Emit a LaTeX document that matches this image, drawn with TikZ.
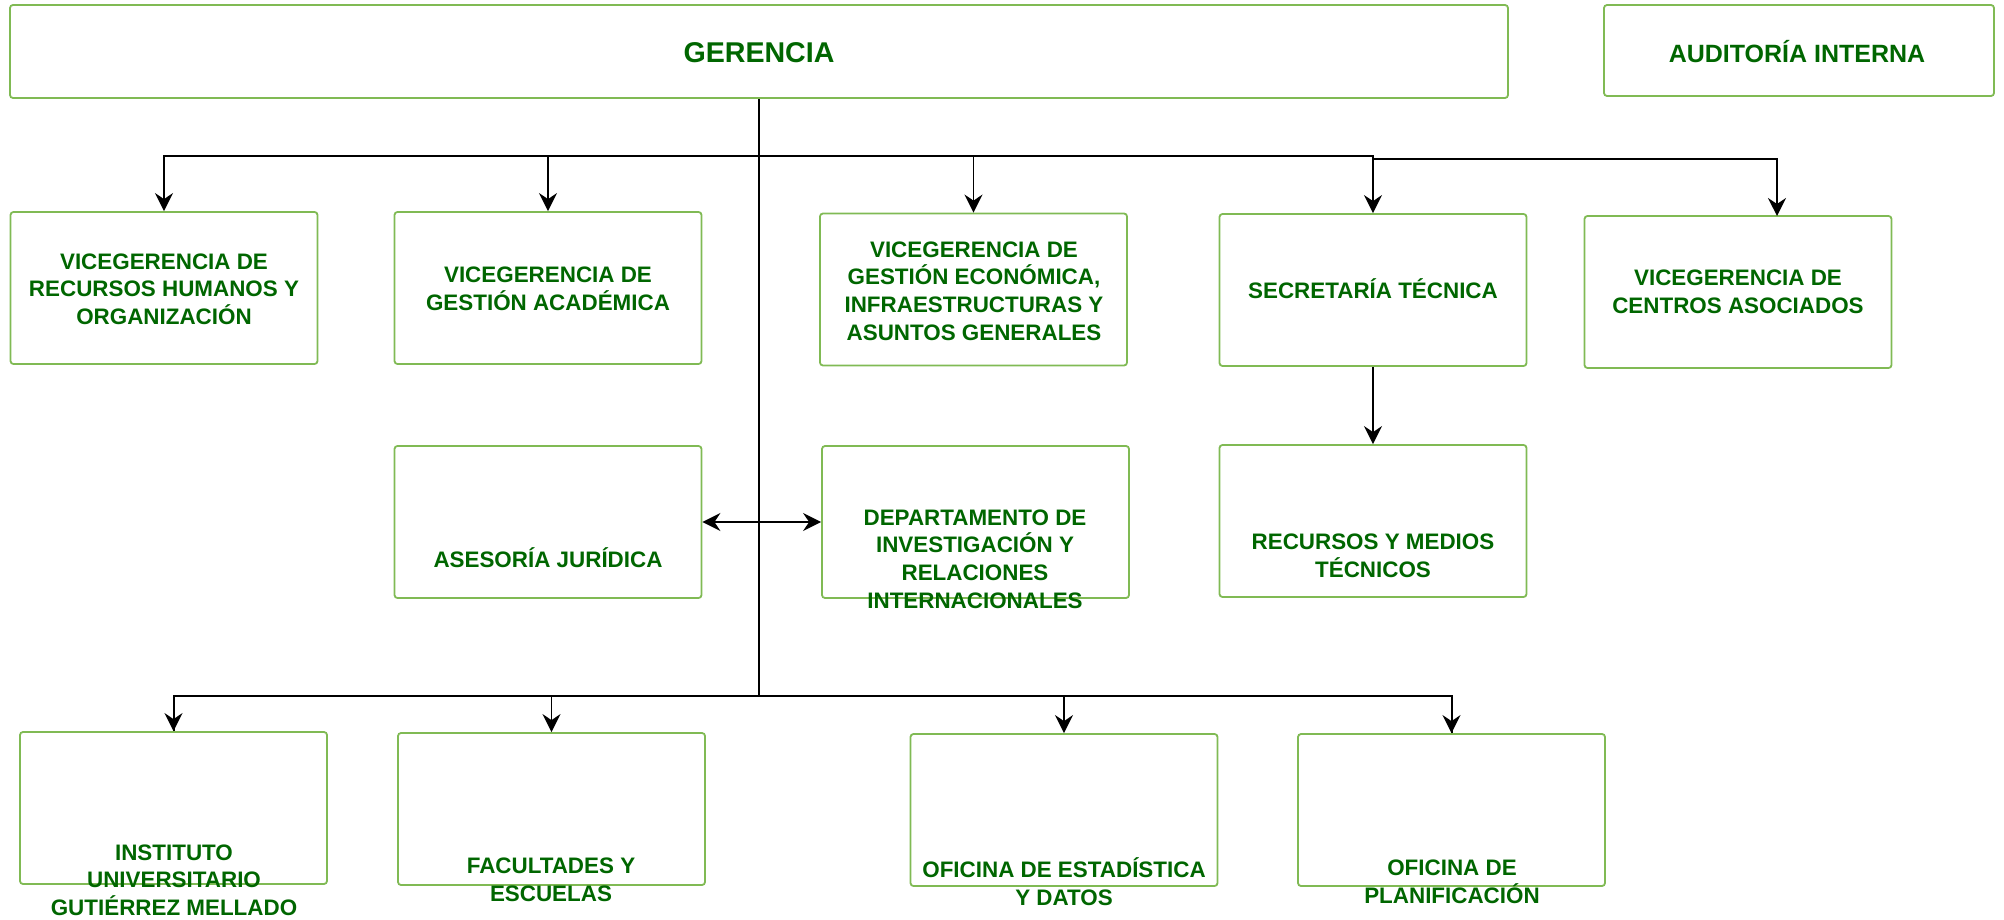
\documentclass[tikz,border=0pt]{standalone}
\usepackage{fontspec}
\setmainfont{Liberation Sans}
\usetikzlibrary{arrows.meta}

\begin{document}
\begin{tikzpicture}[x=0.5pt,y=-0.5pt,
	box/.style={draw=boxgreen, line width=0.9pt, rounded corners=1.5pt, minimum width=153.5pt, minimum height=76pt, inner sep=0pt},
	lbl/.style={text=textgreen, align=center, font=\fontsize{11.2}{13.85}\selectfont\bfseries, inner sep=0pt},
	arr/.style={draw=black, line width=0.9pt, -{Stealth[length=9pt, width=9pt, inset=3pt]}},
	dblarr/.style={draw=black, line width=1pt, {Stealth[length=9pt, width=9pt, inset=3pt]}-{Stealth[length=9pt, width=9pt, inset=3pt]}},
	trunk/.style={draw=black, line width=1pt}]
	% Define colors
	\definecolor{boxgreen}{RGB}{128, 186, 84}
	\definecolor{textgreen}{RGB}{0, 102, 0}
	
	\useasboundingbox (0,0) rectangle (2004,920);
	
	% Head boxes
	\node[box, minimum width=749pt, minimum height=46.5pt] (gerencia) at (759,51.5) {};
	\node[lbl, font=\fontsize{14.3}{17}\selectfont\bfseries] (gerenciaT) at (759,53) {GERENCIA};
	
	\node[box, minimum width=195pt, minimum height=45.5pt] (auditoria) at (1799,50.5) {};
	\node[lbl, font=\fontsize{12.5}{15}\selectfont\bfseries] (auditoriaT) at (1797,52) {AUDITORÍA INTERNA};
	
	% Vicegerencias (top row)
	\node[box] (rrhh) at (164,288) {};
	\node[lbl] (rrhhT) at (164,289) {VICEGERENCIA DE\\RECURSOS HUMANOS Y\\ORGANIZACIÓN};
	
	\node[box] (academica) at (548,288) {};
	\node[lbl] (academicaT) at (548,289) {VICEGERENCIA DE\\GESTIÓN ACADÉMICA};
	
	\node[box] (economica) at (973.5,289.5) {};
	\node[lbl] (economicaT) at (974,291) {VICEGERENCIA DE\\GESTIÓN ECONÓMICA,\\INFRAESTRUCTURAS Y\\ASUNTOS GENERALES};
	
	\node[box] (secretaria) at (1373,290) {};
	\node[lbl] (secretariaT) at (1373,289) {SECRETARÍA TÉCNICA};
	
	\node[box] (centros) at (1738,292) {};
	\node[lbl] (centrosT) at (1738,292) {VICEGERENCIA DE\\CENTROS ASOCIADOS};
	
	% Middle row
	\node[box] (asesoria) at (548,522) {};
	\node[lbl] (asesoriaT) at (548,558) {ASESORÍA JURÍDICA};
	
	\node[box] (departamento) at (975.5,522) {};
	\node[lbl] (departamentoT) at (975,559) {DEPARTAMENTO DE\\INVESTIGACIÓN Y\\RELACIONES\\INTERNACIONALES};
	
	\node[box] (medios) at (1373,521) {};
	\node[lbl] (mediosT) at (1373,556) {RECURSOS Y MEDIOS\\TÉCNICOS};
	
	% Bottom row
	\node[box] (instituto) at (173.5,808) {};
	\node[lbl] (institutoT) at (174,880) {INSTITUTO\\UNIVERSITARIO\\GUTIÉRREZ MELLADO};
	
	\node[box] (facultades) at (551.5,809) {};
	\node[lbl] (facultadesT) at (551,880) {FACULTADES Y\\ESCUELAS};
	
	\node[box] (estadistica) at (1064,810) {};
	\node[lbl] (estadisticaT) at (1064,882) {OFICINA DE ESTADÍSTICA\\Y DATOS};
	
	\node[box] (planificacion) at (1451.5,810) {};
	\node[lbl] (planificacionT) at (1452,882) {OFICINA DE\\PLANIFICACIÓN};
	
	% Connectors
	\coordinate (topbus) at (759,156);
	\coordinate (botbus) at (759,696);
	\coordinate (centrosIn) at (1777,216);
	
	\draw[trunk] (gerencia.south) -- (botbus);
	
	\draw[arr] (topbus) -| (rrhh);
	\draw[arr] (topbus) -| (academica);
	\draw[arr] (topbus) -| (economica);
	\draw[arr] (topbus) -| (secretaria);
	\draw[arr] (topbus -| secretaria) -- ++(0,3) -| (centrosIn);
	
	\draw[arr] (secretaria) -- (medios);
	\draw[dblarr] (asesoria) -- (departamento);
	
	\draw[trunk] (botbus) -| (instituto.north);
	\draw[trunk] (botbus) -| (planificacion.north);
	\draw[arr] (botbus) -| (instituto);
	\draw[arr] (botbus) -| (facultades);
	\draw[arr] (botbus) -| (estadistica);
	\draw[arr] (botbus) -| (planificacion);
\end{tikzpicture}
\end{document}
